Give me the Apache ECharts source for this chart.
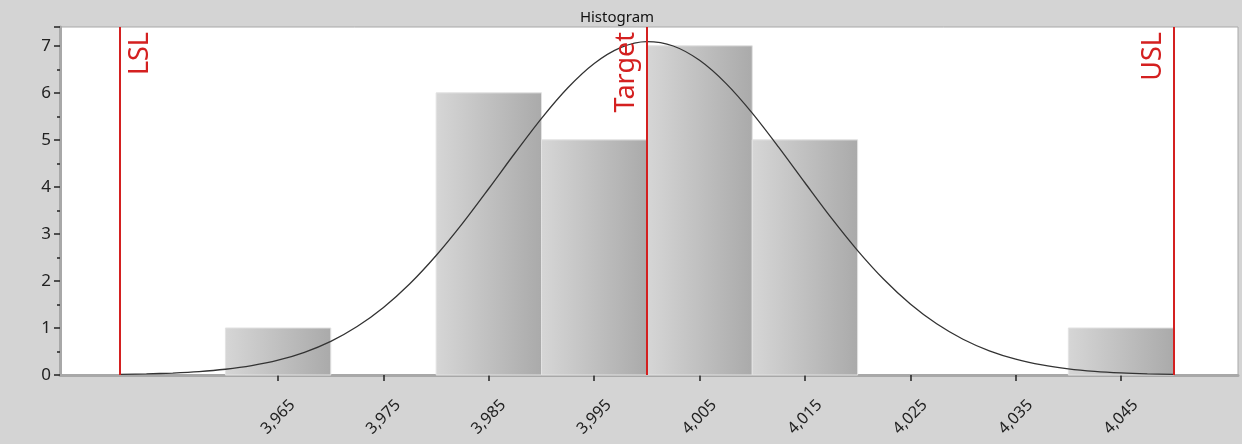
<!DOCTYPE html>
<html>
<head>
<meta charset="utf-8">
<script src="https://cdn.jsdelivr.net/npm/echarts@6/dist/echarts.min.js"></script>
<style>
  html, body { margin: 0; padding: 0; background: #d4d4d4; }
  #chart { width: 1242px; height: 444px; }
</style>
</head>
<body>
<div id="chart"></div>
<script>
// Histogram bins (lower edge, upper edge) and counts
const binLower = [3.96, 3.97, 3.98, 3.99, 4.00, 4.01, 4.02, 4.03, 4.04];
const binUpper = [3.97, 3.98, 3.99, 4.00, 4.01, 4.02, 4.03, 4.04, 4.05];
const binCounts = [1, 0, 6, 5, 7, 5, 0, 0, 1];

// Fitted normal curve, scaled to counts
const curveX = [3.9500, 3.9525, 3.9550, 3.9575, 3.9600, 3.9625, 3.9650, 3.9675, 3.9700, 3.9725,
                3.9750, 3.9775, 3.9800, 3.9825, 3.9850, 3.9875, 3.9900, 3.9925, 3.9950, 3.9975,
                4.0000, 4.0025, 4.0050, 4.0075, 4.0100, 4.0125, 4.0150, 4.0175, 4.0200, 4.0225,
                4.0250, 4.0275, 4.0300, 4.0325, 4.0350, 4.0375, 4.0400, 4.0425, 4.0450, 4.0475,
                4.0500];
const curveY = [0.013, 0.023, 0.042, 0.072, 0.122, 0.199, 0.314, 0.482, 0.715, 1.030,
                1.436, 1.940, 2.541, 3.224, 3.966, 4.726, 5.458, 6.108, 6.624, 6.961,
                7.089, 6.996, 6.691, 6.201, 5.569, 4.846, 4.088, 3.340, 2.646, 2.030,
                1.509, 1.088, 0.760, 0.514, 0.337, 0.214, 0.132, 0.079, 0.046, 0.026,
                0.014];

// Specification limits
const specNames = ['LSL', 'Target', 'USL'];
const specValues = [3.95, 4.00, 4.05];

// Axis tick labels (bin centres)
const xTicks = [3.965, 3.975, 3.985, 3.995, 4.005, 4.015, 4.025, 4.035, 4.045];

const chart = echarts.init(document.getElementById('chart'));

const barFill = new echarts.graphic.LinearGradient(0, 0, 1, 0, [
  { offset: 0, color: '#d6d6d6' },
  { offset: 1, color: '#aaaaaa' }
]);

const font = 'Noto Sans';

const specLines = specNames.map((name, i) => ({
  xAxis: specValues[i],
  label: {
    formatter: name,
    position: i === 0 ? 'insideEndBottom' : 'insideEndTop',
    distance: [5, 7]
  }
}));

chart.setOption({
  backgroundColor: '#d4d4d4',
  animation: false,
  title: {
    text: 'Histogram',
    left: 612,
    top: 5,
    textAlign: 'center',
    textStyle: { fontFamily: font, fontSize: 15, fontWeight: 'normal', color: '#111' }
  },
  grid: {
    left: 60, right: 4, top: 27, bottom: 69,
    show: true,
    backgroundColor: '#ffffff',
    borderColor: '#a8a8a8',
    borderWidth: 1
  },
  xAxis: {
    type: 'value',
    min: 3.9443,
    max: 4.0561,
    splitLine: { show: false },
    axisLine: { show: true, onZero: false, lineStyle: { color: '#a8a8a8', width: 3 } },
    axisTick: {
      show: true,
      customValues: xTicks,
      length: 6,
      lineStyle: { color: '#222', width: 1.5 }
    },
    axisLabel: {
      customValues: xTicks,
      rotate: 45,
      align: 'center',
      verticalAlign: 'middle',
      margin: 42,
      fontFamily: font,
      fontSize: 16,
      color: '#222',
      formatter: v => v.toFixed(3).replace('.', ',')
    }
  },
  yAxis: {
    type: 'value',
    min: 0,
    max: 7.4,
    interval: 1,
    splitLine: { show: false },
    axisLine: { show: true, lineStyle: { color: '#a8a8a8', width: 3 } },
    axisTick: { show: true, length: 6, lineStyle: { color: '#222', width: 1.5 } },
    minorTick: { show: true, splitNumber: 2, length: 3, lineStyle: { color: '#222', width: 1.5 } },
    axisLabel: {
      margin: 9,
      fontFamily: font,
      fontSize: 17,
      color: '#222',
      showMaxLabel: false,
      formatter: v => (Number.isInteger(v) ? String(v) : '')
    }
  },
  series: [
    {
      type: 'custom',
      name: 'Counts',
      data: binCounts.map((c, i) => [binLower[i], binUpper[i], c]),
      encode: { x: [0, 1], y: 2 },
      z: 1,
      renderItem: function (params, api) {
        const count = api.value(2);
        if (!count) return null;
        const topLeft = api.coord([api.value(0), count]);
        const bottomRight = api.coord([api.value(1), 0]);
        return {
          type: 'rect',
          shape: {
            x: topLeft[0],
            y: topLeft[1],
            width: bottomRight[0] - topLeft[0],
            height: bottomRight[1] - topLeft[1]
          },
          style: { fill: barFill, stroke: '#e2e2e2', lineWidth: 1 }
        };
      }
    },
    {
      type: 'line',
      name: 'Normal',
      data: curveX.map((x, i) => [x, curveY[i]]),
      smooth: 0.3,
      showSymbol: false,
      z: 3,
      lineStyle: { color: '#333333', width: 1.3 }
    },
    {
      type: 'line',
      name: 'Spec',
      data: [],
      z: 4,
      markLine: {
        silent: true,
        symbol: 'none',
        animation: false,
        lineStyle: { color: '#d42020', width: 2, type: 'solid' },
        label: {
          show: true,
          color: '#d42020',
          fontFamily: font,
          fontSize: 27
        },
        data: specLines
      }
    }
  ]
});
</script>
</body>
</html>
